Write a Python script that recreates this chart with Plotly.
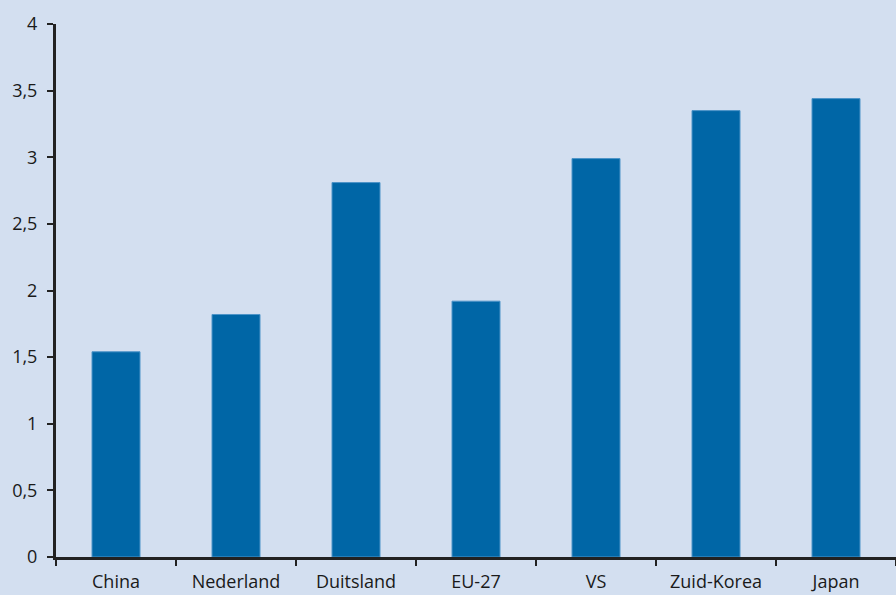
import plotly.graph_objects as go

landen = ["China", "Nederland", "Duitsland", "EU-27", "VS", "Zuid-Korea", "Japan"]
waarden = [1.54, 1.82, 2.81, 1.92, 2.99, 3.35, 3.44]
y_ticks = [0, 0.5, 1, 1.5, 2, 2.5, 3, 3.5, 4]

fig = go.Figure(go.Bar(
    x=landen,
    y=waarden,
    width=0.4,
    marker=dict(color="#0066a6", line=dict(color="#4d94c8", width=1)),
))

fig.update_layout(
    width=896, height=595,
    margin=dict(l=56, r=0, t=24, b=38),
    paper_bgcolor="#d3dff0",
    plot_bgcolor="#d3dff0",
    separators=", ",
    font=dict(family="Open Sans, Noto Sans, sans-serif", size=18, color="#1a1a1a"),
    showlegend=False,
)
fig.update_xaxes(
    type="category",
    tickson="boundaries",
    ticks="outside", ticklen=6, tickwidth=2, tickcolor="#222222",
    showline=True, linecolor="#222222", linewidth=3,
    showgrid=False, zeroline=False,
    range=[-0.5, 6.5],
    tickfont=dict(size=18),
    ticklabelstandoff=6,
)
fig.update_yaxes(
    range=[0, 4],
    tickvals=y_ticks,
    ticks="outside", ticklen=6, tickwidth=2, tickcolor="#222222",
    showline=True, linecolor="#222222", linewidth=3,
    showgrid=False, zeroline=False,
    ticklabelstandoff=6,
    tickfont=dict(size=18),
)

fig.write_html("out.html", config={"displayModeBar": False},
               post_script="document.body.style.margin='0';")
